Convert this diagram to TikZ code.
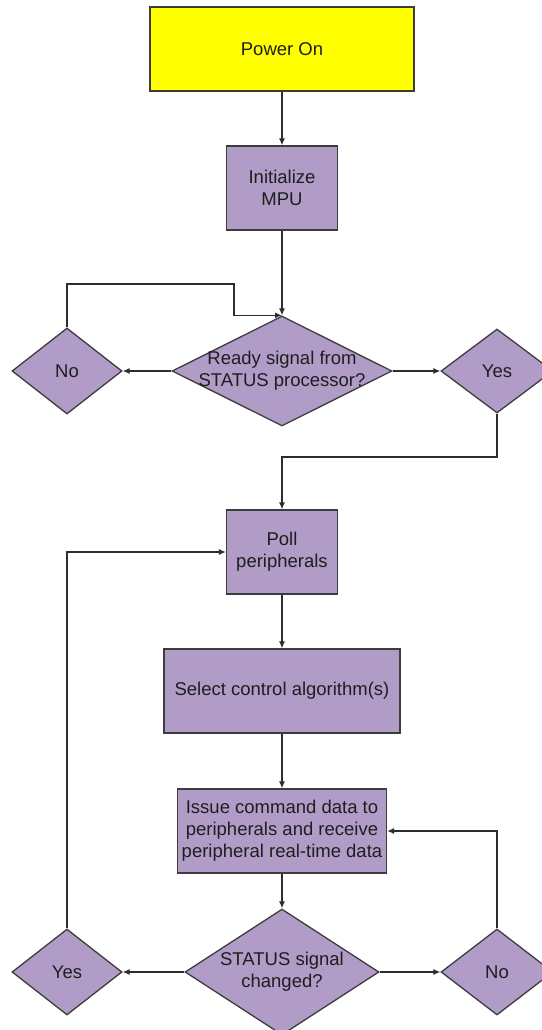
\documentclass[tikz,border=0pt]{standalone}
\usepackage{fontspec}
\setmainfont{Liberation Sans}
\usetikzlibrary{shapes.geometric,arrows.meta}

\definecolor{boxfill}{RGB}{177,156,200}
\definecolor{startfill}{RGB}{255,255,0}
\definecolor{edgegray}{RGB}{60,60,60}
\definecolor{linegray}{RGB}{45,45,45}
\definecolor{txt}{RGB}{30,30,30}

\newcommand{\chartfont}{\fontsize{18.5}{22}\selectfont}

\tikzset{
  base/.style={draw=edgegray, line width=1.3pt, inner sep=0pt, text=txt,
               font=\chartfont, align=center},
  procbox/.style={base, rectangle, fill=boxfill},
  startbox/.style={base, rectangle, fill=startfill},
  decision/.style={base, diamond, fill=boxfill},
  dtext/.style={font=\chartfont, text=txt, align=center},
  flow/.style={draw=linegray, line width=1.2pt, -{Latex[length=7pt,width=6pt]}},
}

\begin{document}
\begin{tikzpicture}[x=1pt, y=-1pt]
  \useasboundingbox (0,0) rectangle (541,1030);

  % process steps
  \node[startbox, minimum width=264, minimum height=84] (power) at (282,49) {Power On};
  \node[procbox, minimum width=111, minimum height=84] (init) at (282,188) {Initialize\\MPU};
  \node[procbox, minimum width=111, minimum height=84] (poll) at (282,552) {Poll\\peripherals};
  \node[procbox, minimum width=236, minimum height=84] (select) at (282,691) {Select control algorithm(s)};
  \node[procbox, minimum width=209, minimum height=84] (issue) at (282,831)
       {Issue command data to\\peripherals and receive\\peripheral real-time data};

  % decisions (text laid over the diamond, as it overruns the edges)
  \node[decision, minimum width=220, minimum height=110,
        label={[dtext]center:Ready signal from\\STATUS processor?}]
       (ready) at (282,371) {};
  \node[decision, minimum width=110, minimum height=86,
        label={[dtext]center:No}] (no1) at (67,371) {};
  \node[decision, minimum width=112, minimum height=84,
        label={[dtext]center:Yes}] (yes1) at (497,371) {};

  \node[decision, minimum width=194, minimum height=126,
        label={[dtext]center:STATUS signal\\changed?}]
       (status) at (282,972) {};
  \node[decision, minimum width=110, minimum height=86,
        label={[dtext]center:Yes}] (yes2) at (67,972) {};
  \node[decision, minimum width=112, minimum height=86,
        label={[dtext]center:No}] (no2) at (497,972) {};

  % bend points of the loops
  \coordinate (retry) at (234,284);
  \coordinate (joinpoll) at (282,457);

  % connectors
  \draw[flow] (power) -- (init);
  \draw[flow] (init) -- (ready.north);
  \draw[flow] (ready.west) -- (no1.east);
  \draw[flow] (ready.east) -- (yes1.west);
  \draw[flow] (no1.north) |- (retry) |- (ready.north);
  \draw[flow] (yes1.south) |- (joinpoll) -- (poll.north);
  \draw[flow] (poll) -- (select);
  \draw[flow] (select) -- (issue);
  \draw[flow] (issue) -- (status.north);
  \draw[flow] (status.west) -- (yes2.east);
  \draw[flow] (status.east) -- (no2.west);
  \draw[flow] (yes2.north) |- (poll.west);
  \draw[flow] (no2.north) |- (issue.east);
\end{tikzpicture}
\end{document}
